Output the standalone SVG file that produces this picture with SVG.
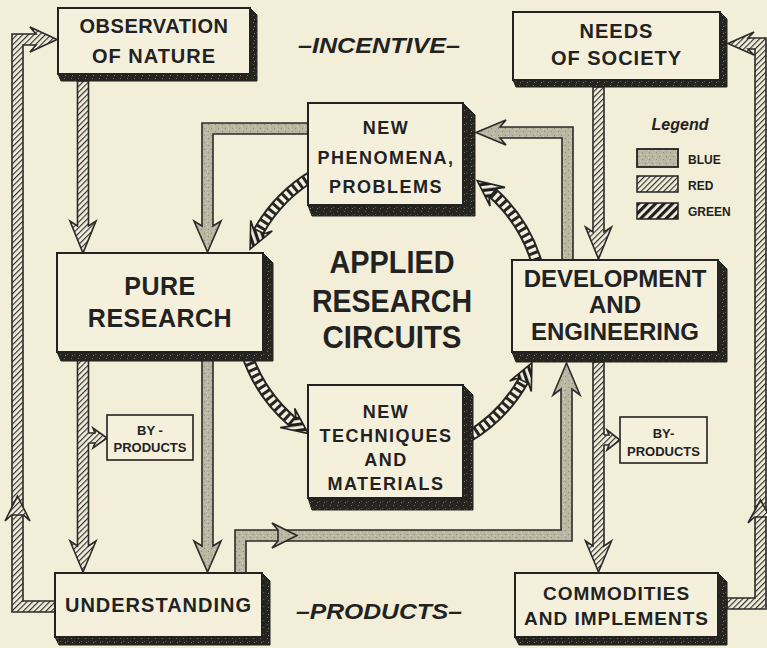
<svg xmlns="http://www.w3.org/2000/svg" width="767" height="648" viewBox="0 0 767 648">
<style>
.bg{fill:#f2eed8}
.br{fill:url(#red);stroke:#2a2a2a;stroke-width:1.6;stroke-linejoin:miter}
.bb{fill:url(#blue);stroke:#2a2a2a;stroke-width:1.6;stroke-linejoin:miter}
.hg{fill:url(#green);stroke:#222;stroke-width:1.6}
.ao{fill:none;stroke:#262626;stroke-width:12}
.ai{fill:none;stroke:#f4f0dc;stroke-width:8;stroke-dasharray:3.5 3}
.ln{fill:none;stroke:#2a2a2a;stroke-width:1.6}
.face{fill:#f4f0dc;stroke:#222;stroke-width:2}
.sh{fill:url(#shade);stroke:#222;stroke-width:1}
.sm{fill:#f4f0dc;stroke:#222;stroke-width:1.6}
.t{font-family:"Liberation Sans",Arial,sans-serif;font-weight:bold;fill:#222;text-anchor:middle}
.big{font-size:31px}
.it{font-family:"Liberation Sans",Arial,sans-serif;font-weight:bold;font-style:italic;fill:#222;text-anchor:middle}
.lg{font-family:"Liberation Sans",Arial,sans-serif;font-weight:bold;fill:#222;font-size:12px}
</style>
<defs>
<pattern id="red" width="4" height="4" patternUnits="userSpaceOnUse" patternTransform="rotate(45)">
<rect width="4" height="4" fill="#f4f0dc"/><rect width="1.2" height="4" fill="#333"/>
</pattern>
<pattern id="green" width="6" height="6" patternUnits="userSpaceOnUse" patternTransform="rotate(45)">
<rect width="6" height="6" fill="#f4f0dc"/><rect width="3.2" height="6" fill="#1e1e1e"/>
</pattern>
<pattern id="blue" width="7" height="7" patternUnits="userSpaceOnUse">
<rect width="7" height="7" fill="#bab6a2"/>
<rect x="1" y="2" width="1" height="1" fill="#8c8978"/>
<rect x="5" y="5" width="1" height="1" fill="#8c8978"/>
<rect x="3" y="0" width="1" height="1" fill="#d8d4c2"/>
<rect x="4" y="3" width="1" height="1" fill="#d8d4c2"/>
</pattern>
<pattern id="shade" width="7" height="7" patternUnits="userSpaceOnUse">
<rect width="7" height="7" fill="#26241f"/>
<rect x="1" y="1" width="1" height="1" fill="#6a675d"/>
<rect x="4" y="4" width="1.2" height="1" fill="#55524a"/>
<rect x="2" y="5" width="1" height="1" fill="#7d7a6e"/>
</pattern>
<path id="gh" d="M0,0 L-26,-12 L-20,-6 L-20,6 L-26,12 Z"/>
</defs>
<rect class="bg" width="767" height="648"/>

<g id="connectors">
<!-- red: observation -> pure research -->
<path class="br" d="M77.5,81 V226 L70,221 L83,253 L96,221 L88.5,226 V81 Z"/>
<!-- red: left loop understanding -> observation -->
<path class="br" d="M55,612 H12 V34 H36 L30,27 L57,39.5 L30,52 L36,45 H23 V601 H55 Z"/>
<path class="br" d="M17.5,496 L30,521 L23.5,515 L11.5,515 L5,521 Z"/>
<!-- red: right loop commodities -> needs -->
<path class="br" d="M727,598 H755 V49 H748 L754,55 L728,43.5 L754,32 L748,38 H766 V609 H727 Z"/>
<path class="br" d="M760.5,500 L773,523 L766.5,517 L754.5,517 L748,523 Z"/>
<!-- red: needs -> development -->
<path class="br" d="M593,87 V232 L585.5,227 L598.5,259 L611.5,227 L604,232 V87 Z"/>
<!-- red: development -> commodities -->
<path class="br" d="M593,362 V546 L585.5,541 L598.5,572 L611.5,541 L604,546 V362 Z"/>
<path fill="url(#red)" d="M602,435 H609 L607,430 L620,440 L607,450 L609,445 H602 Z"/>
<path class="ln" d="M604,435 H609 L607,430 L620,440 L607,450 L609,445 H604"/>
<!-- red: pure research -> understanding -->
<path class="br" d="M77.5,360 V546 L70,541 L83,572 L96,541 L88.5,546 V360 Z"/>
<path fill="url(#red)" d="M86,433 H95 L93,428 L107,438 L93,448 L95,443 H86 Z"/>
<path class="ln" d="M88.5,433 H95 L93,428 L107,438 L93,448 L95,443 H88.5"/>
<!-- blue: new phenomena -> pure research -->
<path class="bb" d="M308,123 H202 V226 L194,221 L207.5,252 L221,221 L213,226 V134 H308 Z"/>
<!-- blue: pure research -> understanding -->
<path class="bb" d="M202,360 V546 L194,541 L207.5,572 L221,541 L213,546 V360 Z"/>
<!-- blue: understanding -> development -->
<path class="bb" d="M235,573 V530 H561 V389 L553,395 L566.5,363 L580,395 L572,389 V541 H246 V573 Z"/>
<path class="bb" d="M297,535.5 L272,523 L278,530 L278,541 L272,548 Z"/>
<!-- blue: development -> new phenomena -->
<path class="bb" d="M562,260 V138 H500 L506,145 L476,132.5 L506,120 L500,127 H573 V260 Z"/>
<!-- green circuit arcs -->
<path class="ao" d="M315,174.4 A152,152 0 0 0 258.7,231.2"/>
<path class="ai" d="M315,174.4 A152,152 0 0 0 258.7,231.2"/>
<use href="#gh" class="hg" transform="translate(250.1,249.1) rotate(116)"/>
<path class="ao" d="M246.4,353 A152,152 0 0 0 292.3,421.6"/>
<path class="ai" d="M246.4,353 A152,152 0 0 0 292.3,421.6"/>
<use href="#gh" class="hg" transform="translate(308.2,433.5) rotate(37)"/>
<path class="ao" d="M467,437.6 A152,152 0 0 0 523.3,380.8"/>
<path class="ai" d="M467,437.6 A152,152 0 0 0 523.3,380.8"/>
<use href="#gh" class="hg" transform="translate(531.9,362.9) rotate(-64)"/>
<path class="ao" d="M537.1,264.1 A152,152 0 0 0 492.7,193"/>
<path class="ai" d="M537.1,264.1 A152,152 0 0 0 492.7,193"/>
<use href="#gh" class="hg" transform="translate(477.2,180.6) rotate(-141.5)"/>
</g>

<g id="observation">
<polygon class="sh" points="250,8 257,15 257,81 61,81 58,74"/>
<rect class="face" x="58" y="8" width="192" height="66"/>
<text class="t" x="154" y="33" font-size="20" letter-spacing="0.5">OBSERVATION</text>
<text class="t" x="154" y="63" font-size="20" letter-spacing="1">OF NATURE</text>
</g>

<g id="needs">
<polygon class="sh" points="720,12 727,19 727,87 516,87 513,80"/>
<rect class="face" x="513" y="12" width="207" height="68"/>
<text class="t" x="616.5" y="38" font-size="20" letter-spacing="1">NEEDS</text>
<text class="t" x="616.5" y="65" font-size="20" letter-spacing="1">OF SOCIETY</text>
</g>

<g id="phenomena">
<polygon class="sh" points="463,103 475,115 475,216 312,216 308,205"/>
<rect class="face" x="308" y="103" width="155" height="102"/>
<text class="t" x="386" y="134" font-size="18" letter-spacing="1.5">NEW</text>
<text class="t" x="386" y="164" font-size="18" letter-spacing="1.5">PHENOMENA,</text>
<text class="t" x="386" y="193" font-size="18" letter-spacing="1.5">PROBLEMS</text>
</g>

<g id="pure">
<polygon class="sh" points="263,253 273,263 273,361 61,361 57,352"/>
<rect class="face" x="57" y="253" width="206" height="99"/>
<text class="t" x="160" y="295" font-size="25" letter-spacing="0.5">PURE</text>
<text class="t" x="160" y="327" font-size="25" letter-spacing="0.5">RESEARCH</text>
</g>

<g id="development">
<polygon class="sh" points="718,260 727,269 727,362 516,362 512,352"/>
<rect class="face" x="512" y="260" width="206" height="92"/>
<text class="t" x="615" y="287" font-size="24">DEVELOPMENT</text>
<text class="t" x="615" y="313" font-size="24">AND</text>
<text class="t" x="615" y="340" font-size="24">ENGINEERING</text>
</g>

<g id="techniques">
<polygon class="sh" points="463,385 473,395 473,510 312,510 308,498"/>
<rect class="face" x="308" y="385" width="155" height="113"/>
<text class="t" x="386" y="418" font-size="18" letter-spacing="1.5">NEW</text>
<text class="t" x="386" y="442" font-size="18" letter-spacing="1.5">TECHNIQUES</text>
<text class="t" x="386" y="466" font-size="18" letter-spacing="1.5">AND</text>
<text class="t" x="386" y="490" font-size="18" letter-spacing="1.5">MATERIALS</text>
</g>

<g id="understanding">
<polygon class="sh" points="262,573 270,581 270,645 59,645 55,637"/>
<rect class="face" x="55" y="573" width="207" height="64"/>
<text class="t" x="158.5" y="612" font-size="20" letter-spacing="1">UNDERSTANDING</text>
</g>

<g id="commodities">
<polygon class="sh" points="718,573 727,582 727,645 519,645 515,637"/>
<rect class="face" x="515" y="573" width="203" height="64"/>
<text class="t" x="616.5" y="600" font-size="19" letter-spacing="1">COMMODITIES</text>
<text class="t" x="616.5" y="625" font-size="19" letter-spacing="1">AND IMPLEMENTS</text>
</g>

<g id="byproducts-left">
<rect class="sm" x="107" y="415" width="86" height="45"/>
<text class="t" x="150" y="435" font-size="13">BY -</text>
<text class="t" x="150" y="452" font-size="13">PRODUCTS</text>
</g>

<g id="byproducts-right">
<rect class="sm" x="620" y="417" width="87" height="46"/>
<text class="t" x="663.5" y="438" font-size="13">BY-</text>
<text class="t" x="663.5" y="456" font-size="13">PRODUCTS</text>
</g>

<g id="title">
<text class="t big" x="392" y="273" textLength="125" lengthAdjust="spacingAndGlyphs">APPLIED</text>
<text class="t big" x="392" y="312" textLength="160" lengthAdjust="spacingAndGlyphs">RESEARCH</text>
<text class="t big" x="392" y="348" textLength="139" lengthAdjust="spacingAndGlyphs">CIRCUITS</text>
</g>

<g id="incentive">
<text class="it" x="379" y="53" font-size="22" textLength="162" lengthAdjust="spacingAndGlyphs">–INCENTIVE–</text>
</g>
<g id="products">
<text class="it" x="379" y="619" font-size="22" textLength="166" lengthAdjust="spacingAndGlyphs">–PRODUCTS–</text>
</g>

<g id="legend">
<text class="it" x="680" y="130" font-size="16">Legend</text>
<rect x="637" y="149" width="41" height="18" fill="url(#blue)" stroke="#222" stroke-width="1.8"/>
<rect x="637" y="176" width="41" height="16" fill="url(#red)" stroke="#222" stroke-width="1.5"/>
<rect x="637" y="203" width="41" height="16" fill="url(#green)" stroke="#222" stroke-width="1.5"/>
<text class="lg" x="688" y="164">BLUE</text>
<text class="lg" x="688" y="190">RED</text>
<text class="lg" x="688" y="216">GREEN</text>
</g>
</svg>
